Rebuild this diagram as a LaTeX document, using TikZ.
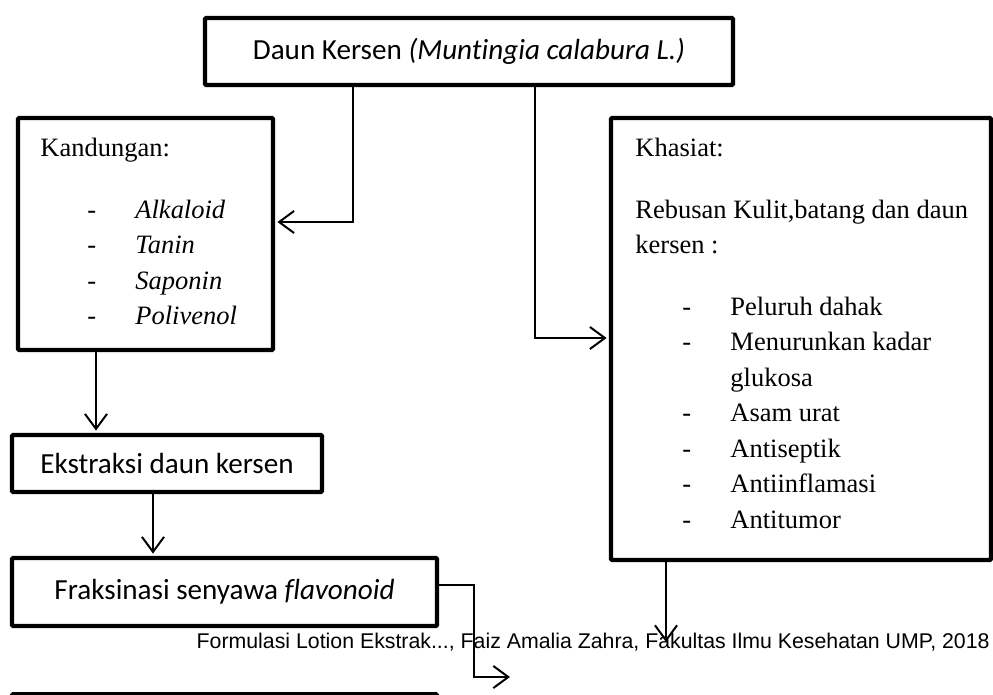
\documentclass[tikz,border=0pt]{standalone}
\usepackage{fontspec}
\setmainfont{Liberation Serif}
\newfontfamily\calibrifont[Ligatures=NoCommon]{Carlito}
\newfontfamily\arialfont{Liberation Sans}
\usetikzlibrary{positioning,calc,arrows.meta}

\tikzset{
  box/.style={draw, line width=2pt, rounded corners=0.6pt, inner sep=0pt, align=center},
  sansbox/.style={box, font=\calibrifont\fontsize{13.2}{15}\selectfont},
  serifline/.style={inner sep=0pt, anchor=base west, font=\fontsize{12}{14}\selectfont},
  arr/.style={line width=0.9pt, -{Straight Barb[length=6.8pt,width=10pt,line width=0.9pt]}},
}

\begin{document}
\begin{tikzpicture}[x=0.453pt,y=-0.453pt]
\def\pxu{0.453pt}
\useasboundingbox (0,0) rectangle (993,694);
\clip (0,0) rectangle (993,694);

% boxes
\node[sansbox, minimum width=528*\pxu, minimum height=67*\pxu] (daun) at (469,51.5) {Daun Kersen \textit{(Muntingia calabura L.)}};
\node[box, minimum width=255*\pxu, minimum height=232*\pxu] (kand) at (145.5,234) {};
\node[box, minimum width=380*\pxu, minimum height=442*\pxu] (khas) at (801,339) {};
\node[sansbox, minimum width=310*\pxu, minimum height=57*\pxu] (ekst) at (167,463.5) {Ekstraksi daun kersen};
\node[sansbox, minimum width=425*\pxu, minimum height=68*\pxu] (frak) at (224.5,592) {Fraksinasi senyawa \textit{flavonoid}};
\node[box, minimum width=425*\pxu, minimum height=68*\pxu, anchor=north] (lotion) at (224.5,692) {};

% kandungan
\node[serifline] (kandT) at (40,156) {Kandungan:};
\foreach \name/\y/\txt in {alk/218/Alkaloid, tan/253.5/Tanin, sap/289/Saponin, pol/324.5/Polivenol}{
  \node[serifline] (d-\name) at (87,\y) {-};
  \node[serifline] (\name) at (135,\y) {\textit{\txt}};
}

% khasiat
\node[serifline] (khasT) at (635,156) {Khasiat:};
\node[serifline] (rebus1) at (635,218) {Rebusan Kulit,batang dan daun};
\node[serifline] (rebus2) at (635,253.5) {kersen :};
\foreach \name/\y/\txt in {pel/315/Peluruh dahak, men/350.5/Menurunkan kadar, asu/421.5/Asam urat, ase/457/Antiseptik, ain/492.5/Antiinflamasi, atu/528/Antitumor}{
  \node[serifline] (d-\name) at (682,\y) {-};
  \node[serifline] (\name) at (730,\y) {\txt};
}
\node[serifline] (glu) at (730,386) {glukosa};

% footer
\node[font=\arialfont\fontsize{9.65}{11}\selectfont, anchor=base east, inner sep=0pt] (footer) at (990,648) {Formulasi Lotion Ekstrak..., Faiz Amalia Zahra, Fakultas Ilmu Kesehatan UMP, 2018};

% arrows
\coordinate (frakEnd) at (510,677);
\coordinate (khasEnd) at (666,642);
\draw[arr, shorten >=1pt] (daun.south -| 353,0) |- (kand.east |- 0,222);
\draw[arr, shorten >=1pt] (daun.south -| 535,0) |- (khas.west |- 0,338);
\draw[arr, shorten >=1pt] (kand.south -| 96,0) -- (ekst.north -| 96,0);
\draw[arr, shorten >=1pt] (ekst.south -| 153,0) -- (frak.north -| 153,0);
\draw[arr] (frak.east |- 0,585) -| (474,677) -- (frakEnd);
\draw[arr] (khas.south -| 666,0) -- (khasEnd);
\end{tikzpicture}
\end{document}
